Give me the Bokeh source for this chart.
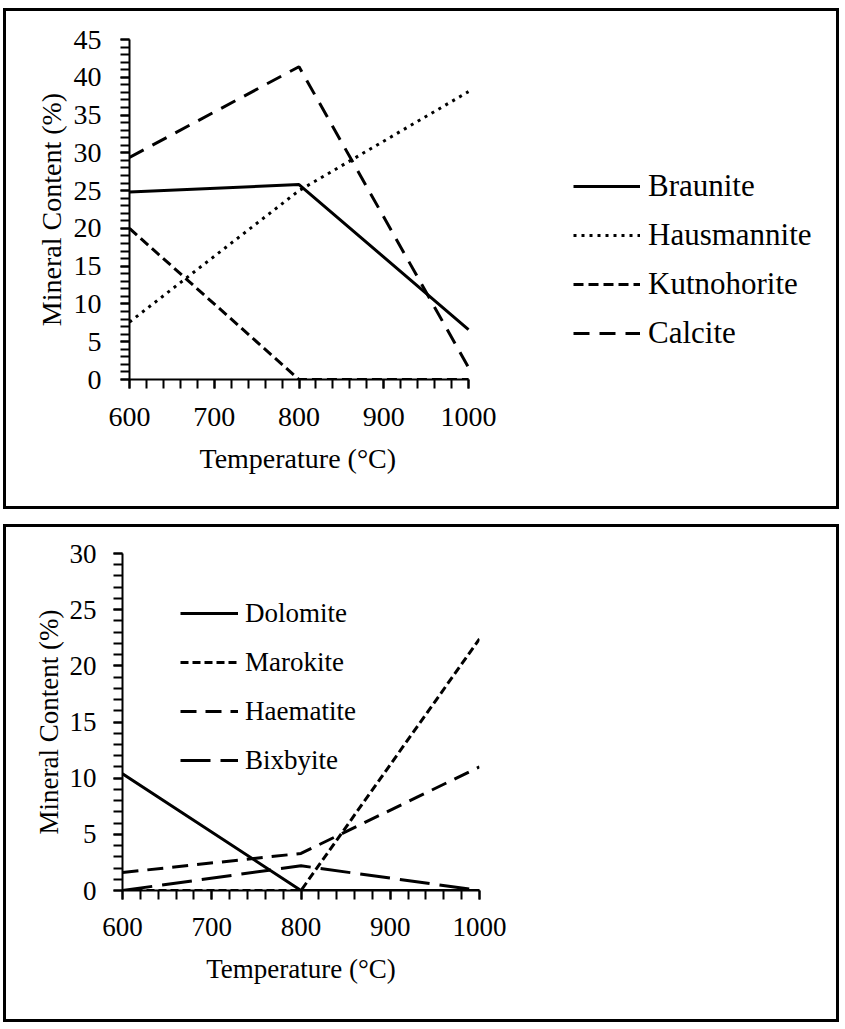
from bokeh.plotting import figure
from bokeh.models import Range1d, FixedTicker, Legend, LegendItem, Spacer, Title
from bokeh.layouts import column, row
from bokeh.embed import file_html
from bokeh.resources import INLINE

FONT = "Liberation Serif"

# ---- data ----
temps = [600, 800, 1000]
x_ticks = [600, 700, 800, 900, 1000]
x_title = "Temperature (°C)"
y_title = "Mineral Content (%)"

top_names = ["Braunite", "Hausmannite", "Kutnohorite", "Calcite"]
braunite = [24.8, 25.8, 6.6]
hausmannite = [7.6, 25.0, 38.1]
kutnohorite = [20.0, 0.0, 0.0]
calcite = [29.4, 41.4, 1.6]
top_y_ticks = [0, 5, 10, 15, 20, 25, 30, 35, 40, 45]

bot_names = ["Dolomite", "Marokite", "Haematite", "Bixbyite"]
dolomite = [10.4, 0.0, 0.0]
marokite = [0.0, 0.0, 22.4]
haematite = [1.6, 3.3, 11.0]
bixbyite = [0.0, 2.2, 0.0]
bot_y_ticks = [0, 5, 10, 15, 20, 25, 30]


def make_fig(width, height, x_end, ymax, yticks, borders, fsize, xstand,
             ystand, xlabel):
    p = figure(width=width, height=height, x_range=Range1d(600, x_end),
               y_range=Range1d(0, ymax), output_backend="svg",
               toolbar_location=None, min_border_left=borders[0],
               min_border_right=borders[1], min_border_top=borders[2],
               min_border_bottom=borders[3])
    p.grid.visible = False
    p.outline_line_color = None
    p.background_fill_color = "white"
    p.border_fill_color = "white"
    p.xaxis.ticker = FixedTicker(ticks=x_ticks,
                                 minor_ticks=list(range(600, 1001, 20)))
    p.yaxis.ticker = FixedTicker(ticks=yticks,
                                 minor_ticks=list(range(0, ymax + 1, 1)))
    p.xaxis.bounds = (600, 1000)
    if xlabel:
        p.xaxis.axis_label = x_title
    p.yaxis.axis_label = y_title
    for ax in (p.xaxis[0], p.yaxis[0]):
        ax.axis_line_width = 2
        ax.axis_line_color = "black"
        ax.major_tick_line_width = 2
        ax.minor_tick_line_width = 2
        ax.major_tick_line_color = "black"
        ax.minor_tick_line_color = "black"
        ax.major_tick_out = 9
        ax.major_tick_in = 0
        ax.minor_tick_out = 9
        ax.minor_tick_in = 0
        ax.major_label_text_font = FONT
        ax.major_label_text_font_size = f"{fsize}px"
        ax.major_label_text_color = "black"
        ax.axis_label_text_font = FONT
        ax.axis_label_text_font_size = f"{fsize}px"
        ax.axis_label_text_font_style = "normal"
        ax.axis_label_text_color = "black"
    p.xaxis.major_label_standoff = xstand[0]
    p.xaxis.axis_label_standoff = xstand[1]
    p.yaxis.major_label_standoff = ystand[0]
    p.yaxis.axis_label_standoff = ystand[1]
    p.styles = {"border": "3px solid black"}
    return p


# ---- top panel (x range extended so the legend sits inside the frame;
#      the visible axis is bounded to 600-1000) ----
p1 = make_fig(836, 501, 1420, 45, top_y_ticks, (123, 18, 28, 133), 28,
              (19, 16), (19, 4), False)
p1.add_layout(Title(text=x_title, align="left", offset=70, standoff=24,
                    text_font=FONT, text_font_size="28px",
                    text_font_style="normal", text_color="black"), "below")
top_series = [braunite, hausmannite, kutnohorite, calcite]
top_dash = ["solid", "3 5", "10 5", "16 10"]
items1 = []
for name, ys, dash in zip(top_names, top_series, top_dash):
    r = p1.line(temps, ys, line_color="black", line_width=3, line_dash=dash)
    items1.append(LegendItem(label=name, renderers=[r]))
leg1 = Legend(items=items1, location=(444, 28), padding=0, margin=0,
              spacing=13, glyph_width=67, glyph_height=36, label_height=36,
              label_standoff=8, label_text_font=FONT,
              label_text_font_size="31px", label_text_color="black",
              border_line_alpha=0, background_fill_alpha=0)
p1.add_layout(leg1)

# ---- bottom panel ----
p2 = make_fig(836, 498, 1000, 30, bot_y_ticks, (116, 363, 26, 135), 27,
              (18, 15), (17, 3), True)
bot_series = [dolomite, marokite, haematite, bixbyite]
bot_dash = ["solid", "8 4", "16 9", "30 10"]
items2 = []
for name, ys, dash in zip(bot_names, bot_series, bot_dash):
    r = p2.line(temps, ys, line_color="black", line_width=3, line_dash=dash)
    items2.append(LegendItem(label=name, renderers=[r]))
leg2 = Legend(items=items2, location=(58, 112), padding=0, margin=0,
              spacing=13, glyph_width=58, glyph_height=36, label_height=36,
              label_standoff=7, label_text_font=FONT,
              label_text_font_size="27px", label_text_color="black",
              border_line_alpha=0, background_fill_alpha=0)
p2.add_layout(leg2)

layout = column(Spacer(height=8),
                row(Spacer(width=3), p1),
                Spacer(height=15),
                row(Spacer(width=3), p2),
                spacing=0)
open("out.html", "w").write(file_html(layout, INLINE))
